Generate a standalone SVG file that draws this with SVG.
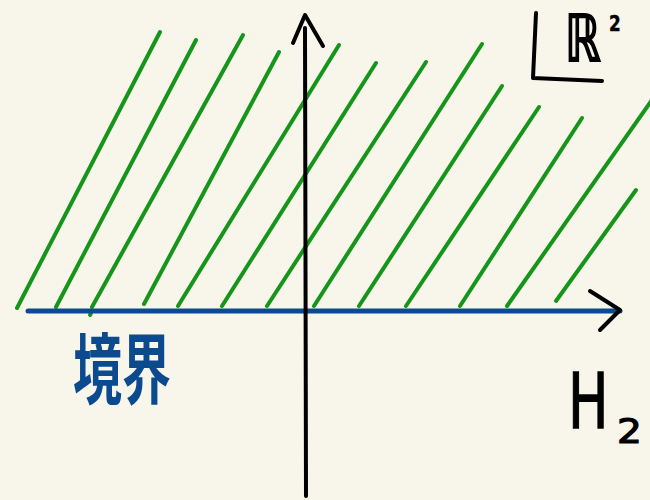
<svg xmlns="http://www.w3.org/2000/svg" width="650" height="500" viewBox="0 0 650 500">
<style>
.hatch{stroke:#15951a;stroke-width:4;stroke-linecap:round;fill:none}
.axis{stroke:#000;stroke-width:4;stroke-linecap:round;stroke-linejoin:round;fill:none}
.bnd{stroke:#0b4a8e;stroke-width:5;stroke-linecap:round;fill:none}
.lbl{font-family:"DejaVu Sans","Liberation Sans",sans-serif;fill:#000;stroke:#000}
.cjk{font-family:"Noto Sans CJK JP","Noto Sans CJK SC",sans-serif;fill:#0b4a8e;font-weight:bold}
</style>
<rect width="650" height="500" fill="#f8f6ea"/>
<g id="hatching" class="hatch">
<line x1="17" y1="308" x2="160" y2="32"/>
<line x1="56" y1="307" x2="196" y2="40"/>
<line x1="92" y1="307" x2="243" y2="35"/>
<line x1="90" y1="315" x2="91" y2="313"/>
<line x1="144" y1="304" x2="279" y2="52"/>
<line x1="178" y1="306" x2="339" y2="45"/>
<line x1="222" y1="306" x2="376" y2="63"/>
<line x1="267" y1="306" x2="426" y2="62"/>
<line x1="314" y1="306" x2="482" y2="44"/>
<line x1="359" y1="306" x2="502" y2="86"/>
<line x1="406" y1="306" x2="539" y2="107"/>
<line x1="460" y1="306" x2="582" y2="118"/>
<line x1="507" y1="306" x2="652" y2="100"/>
<line x1="556" y1="301" x2="636" y2="190"/>
</g>
<g id="connectors">
<line id="boundary" class="bnd" x1="28" y1="311" x2="620" y2="311"/>
<path id="h-arrow" class="axis" d="M590,291 L620,310 L600,330"/>
<path id="v-axis" class="axis" d="M306,496 L305,28"/>
<path id="v-arrow" class="axis" d="M293,43 L305,15 L323,46"/>
</g>
<g id="label-plane">
<path class="axis" d="M536,13 L533,78 L602,81" stroke-width="5"/>
<text class="lbl" transform="translate(565,61) scale(0.71,1)" font-size="64" stroke-width="2">ℝ</text>
<text class="lbl" transform="translate(609,31) scale(0.8,1)" font-size="21" font-weight="bold" stroke-width="0.5">2</text>
</g>
<g id="label-boundary" transform="translate(73,398) scale(1,1.55)">
<text class="cjk" x="0" y="0" font-size="50" textLength="98" lengthAdjust="spacingAndGlyphs">境界</text>
</g>
<g id="label-H2">
<text class="lbl" transform="translate(568,428) scale(0.7,1)" font-size="77" stroke-width="1.4">H</text>
<text class="lbl" transform="translate(617,443) scale(1.15,1)" font-size="34" stroke-width="1.2">2</text>
</g>
</svg>
